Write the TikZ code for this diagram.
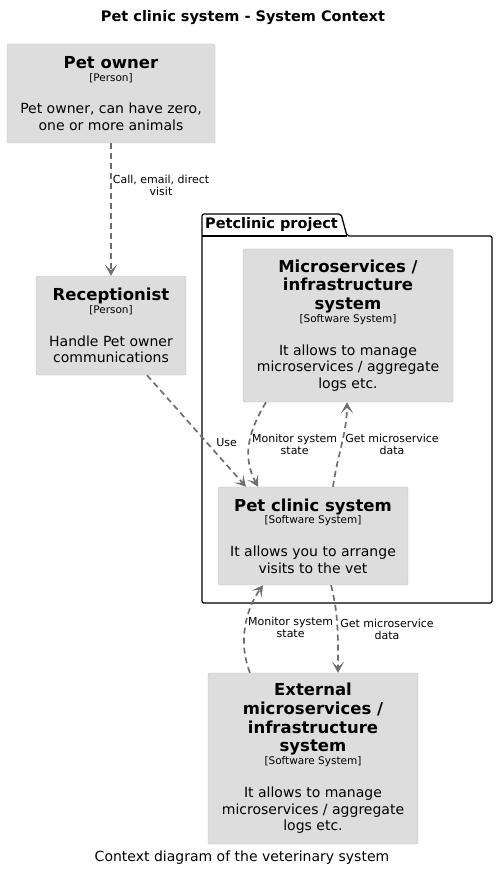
\documentclass[tikz,border=0pt]{standalone}
\usepackage{fontspec}
\setmainfont{DejaVu Sans}
\usepackage{xcolor}
\usetikzlibrary{arrows.meta}

\definecolor{boxfill}{HTML}{DDDDDD}
\definecolor{boxline}{HTML}{C2C2C2}
\definecolor{relgray}{HTML}{6E6E6E}

\newcommand{\boxtitle}{\fontsize{16.5}{18}\selectfont\bfseries}
\newcommand{\boxtag}{\fontsize{10.5}{12}\selectfont}
\newcommand{\boxtext}{\fontsize{14}{16.7}\selectfont\lineskiplimit=-100pt\relax}

\begin{document}
\begin{tikzpicture}[x=1pt, y=-1pt,
					>={Stealth[length=11pt, width=12pt, inset=5.5pt]},
					sysbox/.style={draw=boxline, fill=boxfill, rounded corners=2pt, align=center, inner sep=0pt, font=\boxtext},
					rel/.style={->, draw=relgray, line width=1.7pt, dash pattern=on 6pt off 4pt},
					rellabel/.style={font=\fontsize{11}{12}\selectfont, align=center, inner sep=1pt, text=black},
					pkgline/.style={draw=black, line width=1.3pt}]

					\useasboundingbox (0,0) rectangle (498,874);

					\node[font=\fontsize{14.5}{17}\selectfont\bfseries] (title) at (243,18) {Pet clinic system - System Context};

					% package frame
					\draw[pkgline, rounded corners=2pt] (202,603) -- (202,214) -- (341,214) -- (347,236) -- (492,236) -- (492,603) -- cycle;
					\draw[pkgline] (202,236) -- (347,236);
					\node[anchor=west, inner sep=0pt, font=\fontsize{14.5}{17}\selectfont\bfseries] (pkg) at (205,225) {Petclinic project};

					\node[sysbox, minimum width=208pt, minimum height=99pt] (owner) at (111,93.5) {{\boxtitle Pet owner}\\[-4pt]{\boxtag [Person]}\\[16pt]Pet owner, can have zero,\\one or more animals};
					\node[sysbox, minimum width=150pt, minimum height=99pt] (recep) at (111,325.5) {{\boxtitle Receptionist}\\[-4pt]{\boxtag [Person]}\\[16pt]Handle Pet owner\\communications};
					\node[sysbox, minimum width=210pt, minimum height=153pt] (micro) at (348,325.5) {{\boxtitle Microservices /}\\[2pt]{\boxtitle infrastructure}\\[2pt]{\boxtitle system}\\[-4pt]{\boxtag [Software System]}\\[16pt]It allows to manage\\microservices / aggregate\\logs etc.};
					\node[sysbox, minimum width=190pt, minimum height=98pt] (clinic) at (313,536) {{\boxtitle Pet clinic system}\\[-4pt]{\boxtag [Software System]}\\[16pt]It allows you to arrange\\visits to the vet};
					\node[sysbox, minimum width=210pt, minimum height=171pt] (extern) at (313,758.5) {{\boxtitle External}\\[2pt]{\boxtitle microservices /}\\[2pt]{\boxtitle infrastructure}\\[2pt]{\boxtitle system}\\[-4pt]{\boxtag [Software System]}\\[16pt]It allows to manage\\microservices / aggregate\\logs etc.};

					\node[font=\fontsize{14}{17}\selectfont] (caption) at (242,858) {Context diagram of the veterinary system};

					% relations
					\draw[rel] (owner) -- node[rellabel, right, pos=.32] {Call, email, direct\\visit} (recep);
					\draw[rel] ([xshift=36pt]recep.south) -- node[rellabel, right=8pt, pos=.6] {Use} ([xshift=-67pt]clinic.north);
					\draw[rel] ([xshift=-82pt]micro.south) .. controls +(-18,30) and +(-16,-30) .. node[rellabel, right=1pt, pos=.5] {Monitor system\\state} ([xshift=-55pt]clinic.north);
					\draw[rel] ([xshift=20pt]clinic.north) .. controls +(4,-30) and +(0,30) .. node[rellabel, right=2pt, pos=.5] {Get microservice\\data} ([xshift=-1pt]micro.south);
					\draw[rel] ([xshift=-63pt]extern.north) .. controls +(-12,-30) and +(-18,25) .. node[rellabel, right=1pt, pos=.5] {Monitor system\\state} ([xshift=-50pt]clinic.south);
					\draw[rel] ([xshift=18pt]clinic.south) .. controls +(8,30) and +(0,-30) .. node[rellabel, right=1pt, pos=.5] {Get microservice\\data} ([xshift=25pt]extern.north);
				\end{tikzpicture}
\end{document}
